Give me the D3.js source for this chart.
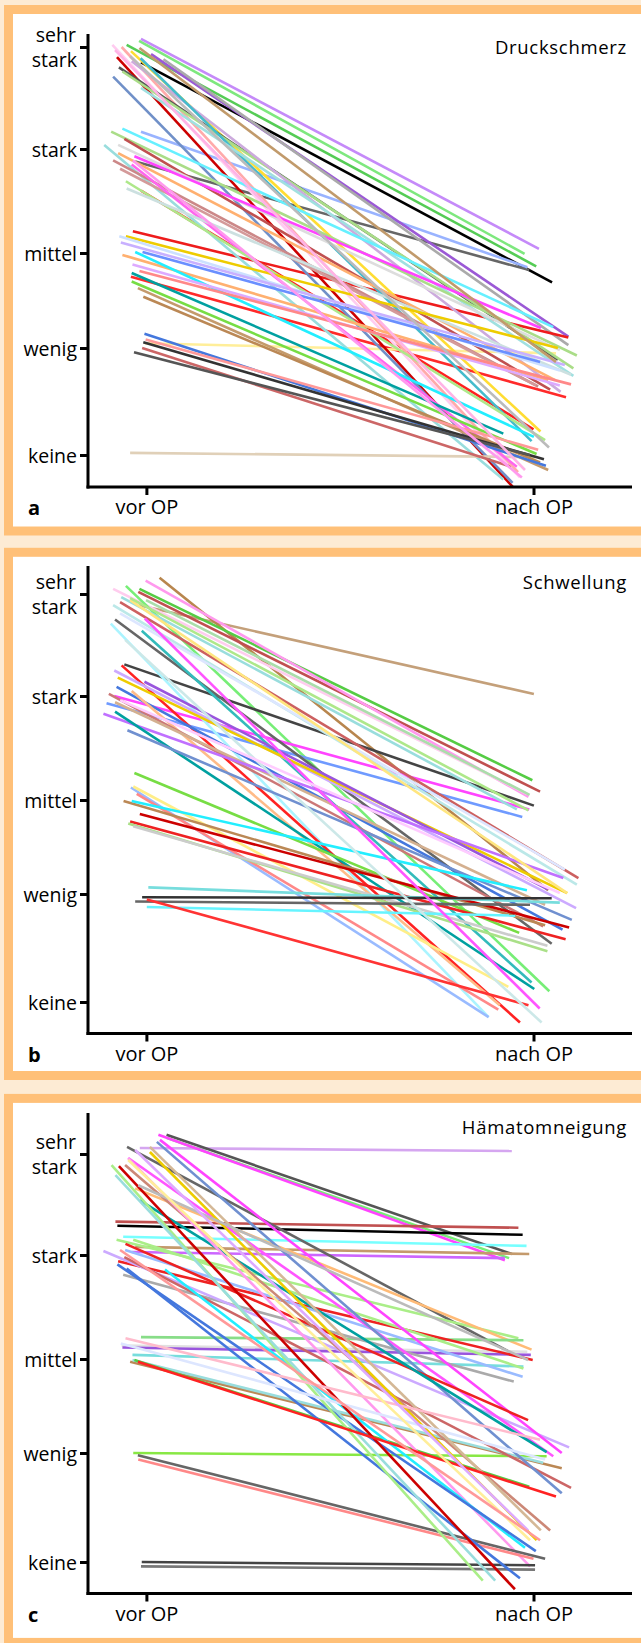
<!DOCTYPE html>
<html lang="de">
<head>
<meta charset="utf-8">
<title>Druckschmerz, Schwellung, Hämatomneigung</title>
<script src="https://d3js.org/d3.v7.min.js"></script>
<style>
  body { margin: 0; background: #fdebd4; }
  svg { display: block; font-family: "Open Sans", sans-serif; }
</style>
</head>
<body>
<div id="chart"></div>
<script>

// category labels
var levels = ["keine", "wenig", "mittel", "stark", "sehr stark"];
var phases = ["vor OP", "nach OP"];

// a: Druckschmerz  (x = position around the category, 0 = vor OP, 1 = nach OP; value 0 = keine ... 4 = sehr stark)
var druckVorX  = [-0.014,-0.019,-0.051,-0.014,-0.029,-0.014,0.012,0.044,-0.035,-0.014,-0.040,-0.004,-0.076,-0.086,-0.109,-0.042,-0.088,-0.011,-0.064,-0.040,-0.071,-0.062,-0.038,-0.015,-0.014,-0.062,-0.091,-0.057,-0.073,-0.073,-0.086,-0.068,-0.031,-0.038,-0.053,-0.051,-0.053,-0.070,-0.066,-0.062,-0.029,-0.010,-0.036,-0.018,-0.038,-0.038,-0.022,-0.008,-0.005,-0.002,-0.008,-0.032,-0.018,-0.081,-0.042,-0.035];
var druckVor   = [4.08,4.06,4.02,3.85,2.88,3.17,3.93,3.88,2.21,2.60,1.75,1.05,3.90,3.71,3.04,0.02,4.02,1.00,4.00,3.96,3.80,3.76,3.86,3.89,3.60,3.20,3.17,3.10,3.04,2.96,2.89,2.81,2.93,2.85,2.69,2.62,2.16,2.16,2.10,1.98,2.01,2.01,1.88,1.81,1.79,1.70,1.63,1.54,1.15,1.09,1.06,0.96,3.99,3.97,3.91,2.89];
var druckNachX = [1.014,0.977,1.007,1.048,0.989,0.984,1.090,1.090,1.090,1.000,1.084,1.058,0.947,0.946,0.922,1.005,0.965,0.942,0.960,1.018,1.063,1.103,1.070,0.995,1.103,1.051,1.112,1.043,1.068,1.056,1.012,1.006,1.019,0.957,1.030,1.097,1.063,1.068,1.081,1.038,1.001,1.017,1.068,1.097,0.922,1.008,1.038,1.017,1.032,1.012,1.027,0.991,1.058,0.978,1.040,0.970];
var druckNach  = [2.04,1.99,1.86,1.69,1.82,1.85,1.12,1.03,1.11,0.24,0.54,0.95,-0.30,-0.26,-0.23,-0.02,-0.21,-0.11,-0.16,0.22,0.89,0.81,0.59,0.13,0.74,1.22,0.93,0.61,0.98,0.70,0.64,0.65,1.21,-0.11,0.14,0.75,1.00,0.79,0.84,0.70,0.17,0.87,0.65,0.66,0.20,0.01,-0.14,-0.07,-0.10,0.05,-0.04,0.00,0.87,-0.14,0.07,-0.21];
var druckColors = ["#c58af9","#7ee87e","#55cc55","#000000","#666666","#99b3ff","#9b59d6","#aaaaaa","#ee1c1c","#ff2020","#ff2a2a","#ffee99","#cc0000","#7090c8","#99dddd","#e0d0b8","#ffccf0","#cc6666","#ffaaaa","#ffdd33","#555555","#aadd88","#ccaadd","#44bbcc","#a0e0e0","#66f0ff","#aadd88","#c05050","#dddddd","#ffb070","#cc8888","#d49a9a","#ff44ff","#ff66ee","#aee88a","#cce0e0","#eecc00","#cce0ff","#c8b0ff","#ffb070","#22eeff","#6a8fff","#ddaaff","#ff8888","#00a0a0","#77dd44","#c49a6c","#bb8855","#4477dd","#ff9999","#333333","#555555","#c19a6b","#ffb3e6","#bbbbbb","#ff99ee"];

// b: Schwellung
var schwVorX  = [-0.019,0.034,-0.018,-0.021,-0.002,-0.086,-0.053,-0.057,-0.083,-0.103,-0.065,-0.068,-0.086,-0.001,-0.081,-0.012,-0.092,-0.064,-0.083,-0.074,-0.005,-0.077,-0.038,-0.097,-0.081,-0.111,-0.081,-0.049,-0.068,-0.042,-0.031,-0.040,-0.034,-0.025,-0.059,-0.038,-0.017,-0.042,-0.047,-0.034,0.005,-0.011,-0.029,0.001,0.001,-0.004,-0.055,-0.068,-0.042];
var schwVor   = [3.89,4.16,4.05,4.02,4.13,4.05,4.08,3.31,3.00,2.93,3.97,3.92,3.89,3.94,3.75,3.64,3.71,3.30,3.25,3.18,3.14,3.09,3.05,3.02,2.94,2.83,2.85,2.67,3.81,3.94,2.26,2.12,2.13,2.06,1.99,1.99,1.85,1.77,1.75,1.72,1.07,0.97,0.93,0.88,0.95,3.76,3.55,2.96,3.96];
var schwNachX = [1.001,1.038,0.997,1.017,0.987,0.983,1.041,1.001,0.989,0.971,0.957,1.116,1.112,0.990,1.047,0.995,0.884,0.965,1.110,1.087,1.037,1.075,0.913,1.025,1.030,1.077,1.002,1.099,1.081,1.087,0.963,0.884,0.935,0.909,1.030,0.983,1.092,1.083,1.036,1.036,1.068,1.047,0.991,0.953,0.987,1.016,1.021,1.068,0.987];
var schwNach  = [3.02,1.04,2.19,2.08,2.03,2.06,0.10,1.94,1.90,1.82,1.90,1.17,1.10,2.05,0.54,0.18,-0.14,-0.19,0.87,1.01,1.05,0.67,-0.03,0.70,0.90,1.17,0.12,0.76,1.26,1.01,0.64,-0.14,0.14,-0.07,0.71,1.04,0.69,0.58,0.47,0.52,0.92,0.96,0.90,0.80,-0.03,-0.06,-0.19,1.01,1.89];
var schwColors = ["#c4a07a","#b8864e","#55cc44","#c05050","#ff99ee","#ffccee","#77ee77","#444444","#ff44ff","#6f9aff","#99dddd","#cc6060","#bbe8e8","#aaddaa","#666666","#33bbbb","#aaf4ff","#ff2222","#ccaaff","#eecc00","#9955dd","#4477dd","#ffbb88","#cc7777","#d4b090","#c070ff","#00a0a0","#7090d0","#dde6ff","#ffe680","#77dd44","#99bbff","#ffee88","#ff8888","#bb8855","#22eeff","#cc0000","#ee2222","#aae088","#cccccc","#77dddd","#333333","#666666","#66f4ff","#ff3333","#ff55ff","#cce8e8","#ffccff","#aee88a"];

// c: Hämatomneigung
var haemVorX  = [-0.017,0.052,0.052,0.031,-0.080,-0.075,-0.060,-0.029,-0.038,-0.050,-0.077,-0.029,-0.014,-0.064,-0.062,-0.073,-0.036,-0.034,-0.055,-0.060,-0.111,0.035,-0.047,-0.034,-0.042,-0.036,-0.057,0.027,-0.054,-0.031,-0.017,-0.055,0.009,0.009,-0.047,0.048,-0.075,-0.022,-0.021,-0.012,-0.014,-0.051,-0.071,-0.090,-0.080,-0.021,-0.022,-0.054,-0.066,-0.047,-0.029,-0.068];
var haemVor   = [4.06,4.19,4.16,4.19,3.33,3.29,3.18,3.08,3.03,4.07,3.15,3.66,2.21,2.13,2.11,2.94,2.04,3.15,3.05,2.81,3.04,4.14,3.96,1.00,1.97,1.99,2.98,4.12,3.11,1.99,3.54,3.89,4.07,4.02,3.96,2.86,2.91,0.98,0.94,0.00,-0.04,2.87,3.88,3.89,3.79,3.69,1.97,2.20,2.15,3.94,4.04,3.05];
var haemNachX = [0.944,0.944,0.937,0.926,0.961,0.972,0.982,0.989,0.926,0.942,0.961,0.995,0.974,0.984,0.993,0.998,0.974,0.974,0.972,0.949,1.092,1.073,1.051,1.034,1.073,1.025,1.097,1.073,0.986,0.989,1.034,1.043,1.019,1.008,0.991,0.978,1.006,1.030,1.000,1.004,1.004,0.965,0.952,0.869,0.901,0.986,1.058,1.017,1.030,0.991,0.986,1.017];
var haemNach  = [4.03,3.01,2.97,2.95,3.27,3.20,3.09,3.01,2.97,2.06,2.20,2.09,2.18,2.07,2.04,1.99,1.92,1.90,1.81,1.76,1.06,1.00,0.97,0.97,0.86,0.91,0.68,0.63,1.35,0.69,1.01,0.29,0.29,0.20,-0.04,0.13,0.10,0.03,0.03,-0.03,-0.07,-0.15,-0.25,-0.17,-0.17,1.99,0.60,1.14,0.94,0.20,0.29,0.20];
var haemColors = ["#d5a6f0","#555555","#77ee77","#ff44ff","#c05050","#000000","#77ffff","#c49a6c","#cc66ff","#666666","#aaee88","#ffbb77","#88dd88","#e0e0e0","#9955dd","#ee2222","#77dddd","#aaee88","#99bbff","#aaaaaa","#ccaaff","#ff44ff","#ff55ff","#88e844","#bb8855","#99dddd","#cc6666","#7090d0","#ee2222","#55cc44","#00a0a0","#cc8877","#d4b896","#eecc00","#ff99ee","#22eeff","#4477dd","#666666","#ff8888","#444444","#777777","#4477dd","#cc0000","#aaee88","#99dddd","#bbbbbb","#ff2222","#ffbbcc","#dde6ff","#ffee99","#ddaaff","#ff9999"];

function rows(vx, v, nx, n, c) {
  return v.map(function(d, i) {
    return {x0: vx[i], v0: d, x1: nx[i], v1: n[i], color: c[i]};
  });
}

// panel layout (pixel positions of the five level ticks, keine..sehr stark)
var panels = [
  {letter: "a", title: "Druckschmerz",   frameY: 9.5,    frameH: 521.5, axisTop: 34,   axisY: 487,    ticksY: [455, 348, 253, 149, 47],         titleY: 54,
   data: rows(druckVorX, druckVor, druckNachX, druckNach, druckColors)},
  {letter: "b", title: "Schwellung",     frameY: 552.3,  frameH: 523.2, axisTop: 566,  axisY: 1033.5, ticksY: [1002, 894, 800, 696, 594],       titleY: 588.5,
   data: rows(schwVorX, schwVor, schwNachX, schwNach, schwColors)},
  {letter: "c", title: "Hämatomneigung", frameY: 1098.4, frameH: 544,   axisTop: 1113, axisY: 1593.5, ticksY: [1562, 1453, 1359, 1255, 1154],   titleY: 1134,
   data: rows(haemVorX, haemVor, haemNachX, haemNach, haemColors)}
];

var W = 641, H = 1643;
var axisX = 88, axisRight = 632;

var svg = d3.select("#chart").append("svg")
    .attr("width", W)
    .attr("height", H);

svg.append("rect")
    .attr("width", W).attr("height", H)
    .attr("fill", "#fdebd4");

var x = d3.scaleLinear()
    .domain([0, 1])
    .range([146.4, 533.5]);

panels.forEach(function(p) {
  var g = svg.append("g");

  // frame
  g.append("rect")
      .attr("x", 8.5).attr("y", p.frameY)
      .attr("width", 660).attr("height", p.frameH)
      .attr("fill", "#fff")
      .attr("stroke", "#ffc078")
      .attr("stroke-width", 9);

  var y = d3.scaleLinear()
      .domain([0, 1, 2, 3, 4])
      .range(p.ticksY);

  // patient lines
  g.append("g")
    .selectAll("line")
    .data(p.data)
    .enter()
    .append("line")
      .attr("x1", function(d) { return x(d.x0); })
      .attr("y1", function(d) { return y(d.v0); })
      .attr("x2", function(d) { return x(d.x1); })
      .attr("y2", function(d) { return y(d.v1); })
      .attr("stroke", function(d) { return d.color; })
      .attr("stroke-width", 2.6);

  // y axis
  var yAxis = g.append("g")
      .attr("transform", "translate(" + axisX + ",0)")
      .call(d3.axisLeft(y)
        .tickValues([0, 1, 2, 3, 4])
        .tickFormat(function(i) { return levels[i]; })
        .tickSize(8)
        .tickPadding(3));
  yAxis.select(".domain").remove();
  yAxis.selectAll(".tick line").attr("stroke", "#000").attr("stroke-width", 3);
  yAxis.selectAll(".tick text")
      .style("font-family", "'Open Sans', sans-serif")
      .style("font-size", "19.5px")
      .attr("fill", "#000")
      .attr("dy", "0.36em");
  // two-line label on top
  yAxis.selectAll(".tick text").filter(function(i) { return i === 4; })
      .text(null)
      .attr("dy", null)
      .each(function() {
        var t = d3.select(this);
        t.append("tspan").attr("x", -12).attr("y", -6).text("sehr");
        t.append("tspan").attr("x", -11).attr("y", 19.5).text("stark");
      });

  g.append("line")
      .attr("x1", axisX).attr("x2", axisX)
      .attr("y1", p.axisTop).attr("y2", p.axisY + 1.5)
      .attr("stroke", "#000").attr("stroke-width", 3);

  // x axis
  var xAxis = g.append("g")
      .attr("transform", "translate(0," + p.axisY + ")")
      .call(d3.axisBottom(x)
        .tickValues([0, 1])
        .tickFormat(function(i) { return phases[i]; })
        .tickSize(8)
        .tickPadding(5));
  xAxis.select(".domain").remove();
  xAxis.selectAll(".tick line").attr("stroke", "#000").attr("stroke-width", 3);
  xAxis.selectAll(".tick text")
      .style("font-family", "'Open Sans', sans-serif")
      .style("font-size", "20px")
      .attr("fill", "#000");

  g.append("line")
      .attr("x1", axisX - 1.5).attr("x2", axisRight)
      .attr("y1", p.axisY).attr("y2", p.axisY)
      .attr("stroke", "#000").attr("stroke-width", 3);

  // title and panel letter
  g.append("text")
      .attr("x", 627)
      .attr("y", p.titleY)
      .attr("text-anchor", "end")
      .style("font-size", "18.5px")
      .style("letter-spacing", "0.7px")
      .attr("fill", "#000")
      .text(p.title);

  g.append("text")
      .attr("x", 28)
      .attr("y", p.axisY + 28)
      .style("font-size", "20px")
      .style("font-weight", "bold")
      .attr("fill", "#000")
      .text(p.letter);
});

</script>
</body>
</html>
